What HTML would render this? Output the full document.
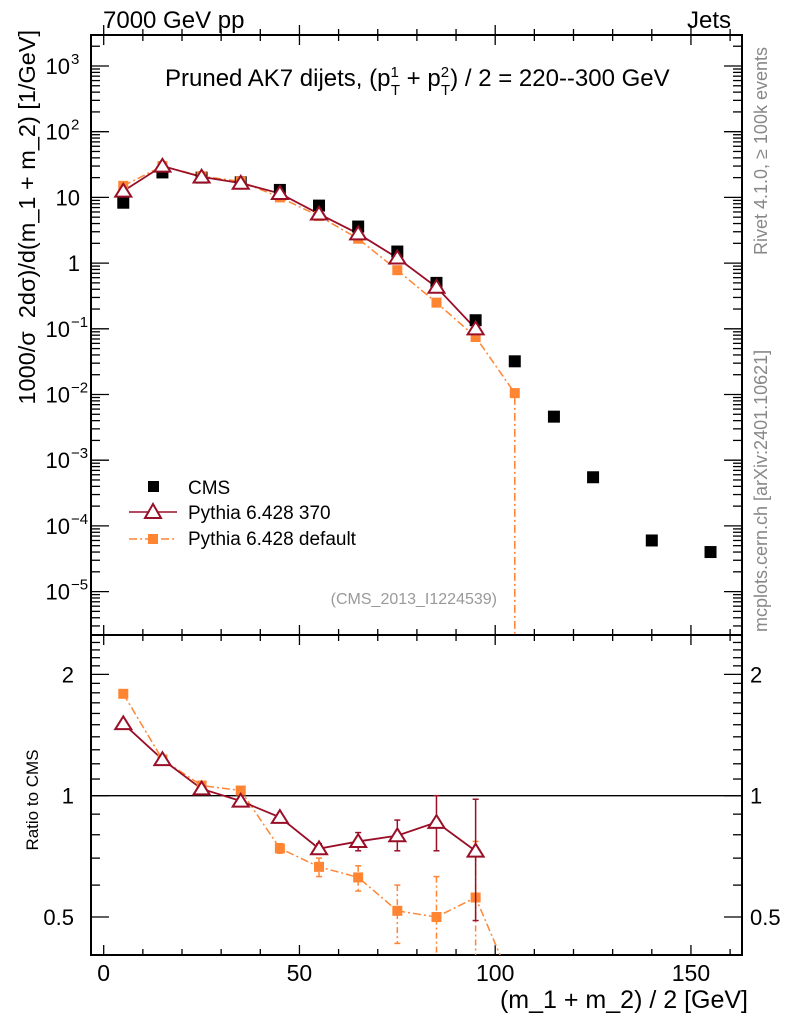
<!DOCTYPE html>
<html><head><meta charset="utf-8">
<style>
body{margin:0;background:#fff;width:786px;height:1024px;overflow:hidden}
svg{font-family:"Liberation Sans",Arial,sans-serif}
</style></head>
<body>
<svg id="chart" width="786" height="1024" xmlns="http://www.w3.org/2000/svg"></svg>
<script>
const xCenters=[5,15,25,35,45,55,65,75,85,95,105,115,125,140,155];
const cmsVals=[8.3,24,20,17,13,7.5,3.6,1.5,0.5,0.135,0.032,0.0046,0.00055,6e-5,4e-5];
const p370X=[5,15,25,35,45,55,65,75,85,95];
const p370Vals=[12.5,30,20.5,16.5,11.5,5.6,2.8,1.2,0.43,0.1];
const defX=[5,15,25,35,45,55,65,75,85,95,105];
const defVals=[15,30,21,17.5,10,5.2,2.35,0.78,0.25,0.075,0.0105];
const r370=[1.51,1.23,1.04,0.97,0.884,0.739,0.77,0.796,0.859,0.729];
const r370Hi=[1.51,1.23,1.04,0.97,0.89,0.76,0.81,0.87,1.0,0.98];
const r370Lo=[1.51,1.23,1.04,0.97,0.88,0.72,0.73,0.73,0.73,0.49];
const rDef=[1.79,1.23,1.06,1.03,0.74,0.666,0.627,0.518,0.50,0.559,0.33];
const rDefHi=[1.81,1.24,1.07,1.04,0.76,0.70,0.67,0.60,0.63,0.77,0.33];
const rDefLo=[1.77,1.22,1.05,1.02,0.72,0.63,0.58,0.43,0.35,0.3,0.33];
const xTicks=[0,50,100,150];
const yTicksMain=[-5,-4,-3,-2,-1,0,1,2,3];
const yTickLabels=["10","10","10","10","10","1","10","10","10"];
const ySup=["−5","−4","−3","−2","−1","","","2","3"];
const rTicks=[0.5,1,2];
const rTickLabels=["0.5","1","2"];

const svg=document.getElementById('chart');
const NS="http://www.w3.org/2000/svg";
const L=91,R=742,T=35,MB=635,RB=955;
const X=v=>103.7+v*3.915;
const Y=v=>66-(Math.log10(v)-3)*65.7;
const RY=v=>795.7-Math.log10(v)*403;
function el(tag,attrs,parent){const e=document.createElementNS(NS,tag);for(const k in attrs)e.setAttribute(k,attrs[k]);(parent||svg).appendChild(e);return e;}
function txt(s,attrs,parent){const e=el('text',attrs,parent);e.textContent=s;return e;}

const defs=el('defs',{});
const c1=el('clipPath',{id:'cm'},defs);el('rect',{x:L,y:T,width:R-L,height:MB-T},c1);
const c2=el('clipPath',{id:'cr'},defs);el('rect',{x:L,y:MB,width:R-L,height:RB-MB},c2);

let f=el('rect',{x:L,y:T,width:R-L,height:MB-T,fill:'none',stroke:'#000','stroke-width':2});

f=el('rect',{x:L,y:MB,width:R-L,height:RB-MB,fill:'none',stroke:'#000','stroke-width':2});


const gx=el('g',{stroke:'#000','stroke-width':1.3});

for(let v=0;v<=160;v+=10){const x=X(v);const maj=v%50==0;const len=maj?10:6;
 [T,MB].forEach(y0=>{el('line',{x1:x,x2:x,y1:y0,y2:y0+len},gx);el('line',{x1:x,x2:x,y1:y0,y2:y0-len},gx);});
 el('line',{x1:x,x2:x,y1:RB,y2:RB-len},gx);}
xTicks.forEach(v=>{const t=txt(String(v),{x:X(v),y:981,'font-size':23,'text-anchor':'middle'});
 });

const gy=el('g',{stroke:'#000','stroke-width':1.3});

for(let d=-6;d<=3;d++){for(let m=1;m<10;m++){const v=m*Math.pow(10,d);const y=Y(v);if(y<T||y>MB)continue;const len=m==1?18:9;
 el('line',{x1:L,x2:L+len,y1:y,y2:y},gy);el('line',{x1:R,x2:R-len,y1:y,y2:y},gy);}}
yTicksMain.forEach((d,i)=>{const y=Y(Math.pow(10,d));
 const t=txt(yTickLabels[i],{x:ySup[i]?70:80,y:y+8,'font-size':22,'text-anchor':'end'});
 
 if(ySup[i]){const s=txt(ySup[i],{x:71,y:y-2,'font-size':15,'text-anchor':'start'});
 }});

const gr=el('g',{stroke:'#000','stroke-width':1.3});

for(let k=4;k<=25;k++){const vv=k/10;const y=RY(vv);if(y<MB||y>RB)continue;
 const maj=[5,10,20].includes(k);const len=maj?18:9;
 el('line',{x1:L,x2:L+len,y1:y,y2:y},gr);el('line',{x1:R,x2:R-len,y1:y,y2:y},gr);}
rTicks.forEach((v,i)=>{const y=RY(v)+8;
 let t=txt(rTickLabels[i],{x:74,y:y,'font-size':22,'text-anchor':'end'});
 t=txt(rTickLabels[i],{x:750,y:y,'font-size':22,'text-anchor':'start'});});
let ln=el('line',{x1:L,x2:R,y1:RY(1),y2:RY(1),stroke:'#000','stroke-width':1.3});


const gm=el('g',{'clip-path':'url(#cm)'});
const C370='#9a0f28',CDEF='#ff8533';
let p=el('polyline',{points:defX.map((x,i)=>X(x)+','+Y(defVals[i])).join(' ')+' '+X(105)+','+(MB+5),fill:'none',stroke:CDEF,'stroke-width':1.5,'stroke-dasharray':'8,3,2,3'},gm);

p=el('polyline',{points:p370X.map((x,i)=>X(x)+','+Y(p370Vals[i])).join(' '),fill:'none',stroke:C370,'stroke-width':1.8},gm);

cmsVals.forEach((v,i)=>{const r=el('rect',{x:X(xCenters[i])-6,y:Y(v)-6,width:12,height:12,fill:'#000'},gm);
 });
defVals.forEach((v,i)=>{const r=el('rect',{x:X(defX[i])-5,y:Y(v)-5,width:10,height:10,fill:CDEF},gm);
 });
function tri(x,y,g){const s=8;return el('polygon',{points:`${x},${y-s*0.9} ${x-s},${y+s*0.7} ${x+s},${y+s*0.7}`,fill:'#fff',stroke:C370,'stroke-width':2},g);}
p370Vals.forEach((v,i)=>{const t=tri(X(p370X[i]),Y(v),gm);});

const grr=el('g',{'clip-path':'url(#cr)'});
p=el('polyline',{points:defX.map((x,i)=>X(x)+','+RY(rDef[i])).join(' '),fill:'none',stroke:CDEF,'stroke-width':1.5,'stroke-dasharray':'8,3,2,3'},grr);

p=el('polyline',{points:p370X.map((x,i)=>X(x)+','+RY(r370[i])).join(' '),fill:'none',stroke:C370,'stroke-width':1.8},grr);

rDef.forEach((v,i)=>{const x=X(defX[i]);const yh=RY(rDefHi[i]),yl=RY(rDefLo[i]);
 if(yl-yh>6){const b=el('line',{x1:x,x2:x,y1:yh,y2:yl,stroke:CDEF,'stroke-width':1.5,'stroke-dasharray':'6,3,2,3'},grr);
 
 el('line',{x1:x-3,x2:x+3,y1:yh,y2:yh,stroke:CDEF,'stroke-width':1.5},grr);
 el('line',{x1:x-3,x2:x+3,y1:yl,y2:yl,stroke:CDEF,'stroke-width':1.5},grr);}
 const r=el('rect',{x:x-5,y:RY(v)-5,width:10,height:10,fill:CDEF},grr);
 });
r370.forEach((v,i)=>{const x=X(p370X[i]);const yh=RY(r370Hi[i]),yl=RY(r370Lo[i]);
 if(yl-yh>6){const b=el('line',{x1:x,x2:x,y1:yh,y2:yl,stroke:C370,'stroke-width':1.5},grr);
 
 el('line',{x1:x-3,x2:x+3,y1:yh,y2:yh,stroke:C370,'stroke-width':1.5},grr);
 el('line',{x1:x-3,x2:x+3,y1:yl,y2:yl,stroke:C370,'stroke-width':1.5},grr);}
 const t=tri(x,RY(v),grr);});
</script>
<svg width="786" height="1024" style="position:absolute;left:0;top:0" xmlns="http://www.w3.org/2000/svg" font-family="Liberation Sans, Arial, sans-serif">
<text x="103" y="28" font-size="24">7000 GeV pp</text>
<text x="731" y="28" font-size="24" text-anchor="end">Jets</text>
<text x="165" y="86" font-size="24">Pruned AK7 dijets, (p<tspan dy="-9" font-size="15">1</tspan><tspan dx="-8" dy="18" font-size="15">T</tspan><tspan dy="-9"> + p</tspan><tspan dy="-9" font-size="15">2</tspan><tspan dx="-8" dy="18" font-size="15">T</tspan><tspan dy="-9">) / 2 = 220--300 GeV</tspan></text>
<text transform="translate(35,30) rotate(-90)" font-size="23.5" text-anchor="end" xml:space="preserve">1000/σ  2dσ)/d(m_1 + m_2) [1/GeV]</text>
<text transform="translate(38,800) rotate(-90)" font-size="17" text-anchor="middle">Ratio to CMS</text>
<text x="748" y="1008" font-size="25" text-anchor="end">(m_1 + m_2) / 2 [GeV]</text>
<text transform="translate(767,255) rotate(-90)" font-size="18" fill="#888">Rivet 4.1.0, ≥ 100k events</text>
<text transform="translate(767,632) rotate(-90)" font-size="18" fill="#888">mcplots.cern.ch [arXiv:2401.10621]</text>
<text x="497" y="604" font-size="16" fill="#999" text-anchor="end">(CMS_2013_I1224539)</text>
<g font-size="19">
<rect x="148" y="481" width="11" height="11" fill="#000"/>
<text x="188" y="494">CMS</text>
<line x1="129" x2="177" y1="512" y2="512" stroke="#9a0f28" stroke-width="1.6"/>
<polygon points="153,504 145,518 161,518" fill="#fff" stroke="#9a0f28" stroke-width="2"/>
<text x="188" y="519">Pythia 6.428 370</text>
<line x1="129" x2="177" y1="539" y2="539" stroke="#ff8533" stroke-width="1.5" stroke-dasharray="8,3,2,3"/>
<rect x="148" y="534" width="10" height="10" fill="#ff8533"/>
<text x="188" y="545">Pythia 6.428 default</text>
</g>
</svg>
</body></html>
